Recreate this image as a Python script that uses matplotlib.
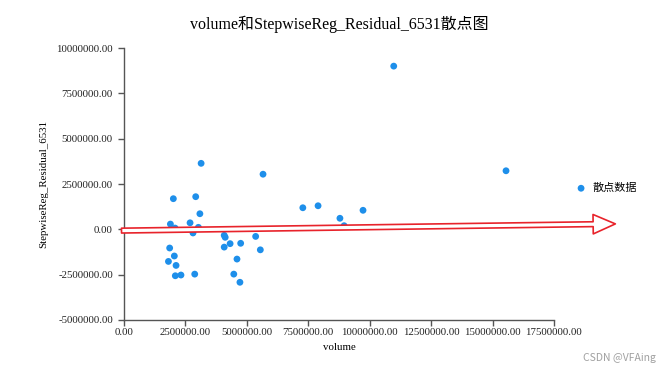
import matplotlib
matplotlib.use("Agg")
import matplotlib.pyplot as plt
from matplotlib.ticker import FormatStrFormatter

# 数据
volume = [10.98e6, 15.55e6, 3.14e6, 5.66e6, 2.01e6, 2.92e6, 3.09e6, 1.89e6,
          2.69e6, 2.08e6, 3.03e6, 2.81e6, 4.08e6, 4.12e6, 5.36e6, 4.32e6,
          4.75e6, 4.08e6, 5.55e6, 1.86e6, 2.05e6, 4.60e6, 1.81e6, 2.12e6,
          2.09e6, 2.32e6, 2.88e6, 4.47e6, 4.72e6, 7.28e6, 7.90e6, 8.79e6,
          9.73e6, 8.96e6]
residual = [9.00e6, 3.23e6, 3.64e6, 3.04e6, 1.69e6, 1.80e6, 0.86e6, 0.29e6,
            0.36e6, 0.07e6, 0.11e6, -0.20e6, -0.33e6, -0.44e6, -0.39e6, -0.79e6,
            -0.77e6, -0.98e6, -1.13e6, -1.03e6, -1.47e6, -1.64e6, -1.77e6, -1.99e6,
            -2.56e6, -2.52e6, -2.47e6, -2.47e6, -2.92e6, 1.19e6, 1.30e6, 0.61e6,
            1.05e6, 0.20e6]

x_ticks = [0, 2.5e6, 5e6, 7.5e6, 10e6, 12.5e6, 15e6, 17.5e6]
y_ticks = [-5e6, -2.5e6, 0, 2.5e6, 5e6, 7.5e6, 10e6]

title = "volume和StepwiseReg_Residual_6531散点图"
legend_label = "散点数据"

# 手绘的红色箭头 (数据坐标)
arrow_start = (-0.1e6, -0.07e6)
arrow_end = (20.0e6, 0.30e6)

serif = ["Liberation Serif", "Noto Sans CJK SC", "DejaVu Sans"]
cjk = ["Noto Sans CJK SC", "DejaVu Sans"]

fig = plt.figure(figsize=(6.69, 3.73), dpi=100)
ax = fig.add_axes([0.1853, 0.1421, 0.6427, 0.7292])

ax.scatter(volume, residual, s=24, color="#1E8FEA", edgecolors="none",
           zorder=3, label=legend_label)

ax.set_xlim(0, 17.5e6)
ax.set_ylim(-5e6, 10e6)
ax.set_xticks(x_ticks)
ax.set_yticks(y_ticks)
ax.xaxis.set_major_formatter(FormatStrFormatter("%.2f"))
ax.yaxis.set_major_formatter(FormatStrFormatter("%.2f"))

for s in ["top", "right"]:
    ax.spines[s].set_visible(False)
for s in ["left", "bottom"]:
    ax.spines[s].set_color("#555555")
    ax.spines[s].set_linewidth(1.0)
ax.tick_params(length=4, width=1, color="#555555", labelsize=7.8,
               labelcolor="#222222")
ax.tick_params(axis="x", pad=2)
ax.tick_params(axis="y", pad=4)
for lab in ax.get_xticklabels() + ax.get_yticklabels():
    lab.set_family(serif)

ax.set_xlabel("volume", family=serif, fontsize=7.8, labelpad=4)
ax.set_ylabel("StepwiseReg_Residual_6531", family=serif, fontsize=7.8,
              labelpad=6)
ax.set_title(title, family=serif, fontsize=11.5, pad=14)

leg = ax.legend(loc="center left", bbox_to_anchor=(1.014, 0.485), frameon=False,
                prop={"family": cjk, "size": 8}, handletextpad=0.05,
                markerscale=1.0)

ax.annotate("", xy=arrow_end, xytext=arrow_start, xycoords="data",
            annotation_clip=False,
            arrowprops=dict(arrowstyle="simple,head_length=1.6,head_width=1.4,tail_width=0.35",
                            facecolor="white", edgecolor="#E8232B", lw=1.2,
                            shrinkA=0, shrinkB=0), zorder=4)

fig.text(0.98, 0.04, "CSDN @VFAing", ha="right", va="center", fontsize=7.5,
         color="#A0A0A0", family=cjk)

fig.savefig("out.png", dpi=100)
